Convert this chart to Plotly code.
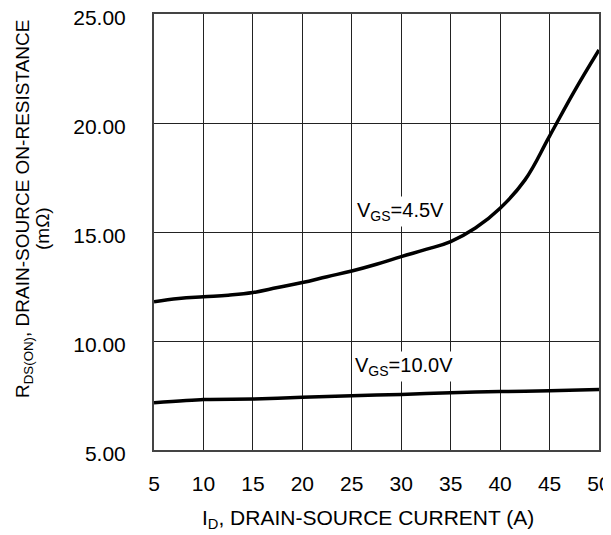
import plotly.graph_objects as go

# Data
id_current = [5, 7.5, 10, 12.5, 15, 17.5, 20, 22.5, 25, 27.5, 30, 32.5, 35, 37.5, 40, 42.5, 45, 47.5, 50]
rds_vgs45 = [11.80, 11.95, 12.03, 12.10, 12.22, 12.45, 12.68, 12.95, 13.21, 13.52, 13.87, 14.20, 14.56, 15.18, 16.09, 17.38, 19.40, 21.45, 23.35]

id_current_10 = [5, 10, 15, 20, 25, 30, 35, 40, 45, 50]
rds_vgs10 = [7.17, 7.32, 7.34, 7.42, 7.49, 7.55, 7.63, 7.68, 7.72, 7.78]

x_ticks = [5, 10, 15, 20, 25, 30, 35, 40, 45, 50]
y_ticks = [5, 10, 15, 20, 25]
y_tick_labels = ["5.00", "10.00", "15.00", "20.00", "25.00"]

FONT = "Liberation Sans, Arial, sans-serif"
FS = 20

fig = go.Figure()
fig.add_trace(go.Scatter(x=id_current, y=rds_vgs45, mode="lines",
                         line=dict(color="black", width=3.5, shape="spline", smoothing=1.2),
                         showlegend=False))
fig.add_trace(go.Scatter(x=id_current_10, y=rds_vgs10, mode="lines",
                         line=dict(color="black", width=3.5, shape="spline", smoothing=0.6),
                         showlegend=False))

fig.add_annotation(x=29.9, y=15.96, xref="x", yref="y", text="V<sub>GS</sub>=4.5V",
                   showarrow=False, bgcolor="white", font=dict(family=FONT, size=FS, color="black"),
                   borderpad=2)
fig.add_annotation(x=30.3, y=8.85, xref="x", yref="y", text="V<sub>GS</sub>=10.0V",
                   showarrow=False, bgcolor="white", font=dict(family=FONT, size=FS, color="black"),
                   borderpad=2)

# y-axis title (two lines)
fig.add_annotation(x=-0.2921, y=0.5528, xref="paper", yref="paper",
                   text="R<sub>DS(ON)</sub>, DRAIN-SOURCE ON-RESISTANCE",
                   textangle=-90, showarrow=False, xanchor="center", yanchor="middle",
                   font=dict(family=FONT, size=19, color="black"))
fig.add_annotation(x=-0.2494, y=0.5069, xref="paper", yref="paper",
                   text="(mΩ)",
                   textangle=-90, showarrow=False, xanchor="center", yanchor="middle",
                   font=dict(family=FONT, size=19, color="black"))
# x-axis title
fig.add_annotation(x=0.4798, y=-0.1583, xref="paper", yref="paper",
                   text="I<sub>D</sub>, DRAIN-SOURCE CURRENT (A)",
                   showarrow=False, xanchor="center", yanchor="middle",
                   font=dict(family=FONT, size=21, color="black"))

fig.update_xaxes(range=[5, 50], tickvals=x_ticks, ticks="", showgrid=True,
                 gridcolor="#222222", gridwidth=1, showline=True, linecolor="#444444",
                 linewidth=2, mirror=True, zeroline=False, ticklabelstandoff=14,
                 automargin=False, ticklabeloverflow="allow",
                 tickfont=dict(family=FONT, size=21, color="black"))
fig.update_yaxes(range=[5, 25], tickvals=y_ticks, ticktext=y_tick_labels, ticks="",
                 showgrid=True, gridcolor="#222222", gridwidth=1, showline=True,
                 linecolor="#444444", linewidth=2, mirror=True, zeroline=False,
                 ticklabelstandoff=22, ticklabelshift=4, automargin=False,
                 ticklabeloverflow="allow",
                 tickfont=dict(family=FONT, size=21, color="black"))

fig.update_layout(width=611, height=535, margin=dict(l=146, r=20, t=6, b=93),
                  plot_bgcolor="white", paper_bgcolor="white")

fig.write_html("out.html")
